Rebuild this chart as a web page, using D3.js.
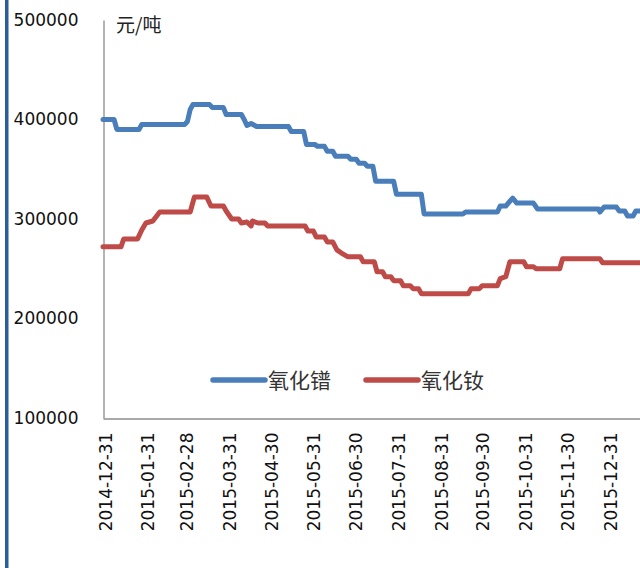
<!DOCTYPE html>
<html>
<head>
<meta charset="utf-8">
<script src="https://cdn.jsdelivr.net/npm/d3@7"></script>
<style>
  html, body { margin: 0; padding: 0; background: #fff; }
  #chart { width: 640px; height: 568px; overflow: hidden; }
</style>
</head>
<body>
<div id="chart"></div>
<script>
// 氧化镨 价格（元/吨）
var prDates = ['2014-12-31','2015-01-08','2015-01-10','2015-01-26','2015-01-28','2015-02-28','2015-03-02','2015-03-04','2015-03-06','2015-03-18',
               '2015-03-20','2015-03-28','2015-03-30','2015-04-10','2015-04-12','2015-04-14','2015-04-17','2015-04-21','2015-05-14','2015-05-16',
               '2015-05-25','2015-05-27','2015-06-02','2015-06-04','2015-06-09','2015-06-11','2015-06-15','2015-06-17','2015-06-26','2015-06-28',
               '2015-07-02','2015-07-04','2015-07-08','2015-07-10','2015-07-14','2015-07-16','2015-07-29','2015-07-31','2015-08-18','2015-08-20',
               '2015-09-17','2015-09-19','2015-10-12','2015-10-14','2015-10-18','2015-10-23','2015-10-26','2015-11-07','2015-11-10','2015-12-24',
               '2015-12-25','2015-12-28','2016-01-06','2016-01-08','2016-01-12','2016-01-14','2016-01-18','2016-01-20','2016-01-23'];
var prValues = [400000,400000,390000,390000,395000,395000,398000,410000,415000,415000,
                412000,412000,405000,405000,400000,394000,396000,393000,393000,388000,
                388000,375000,375000,373000,373000,368000,368000,363000,363000,360000,
                360000,356000,356000,353000,353000,338000,338000,325000,325000,305000,
                305000,307000,307000,313000,313000,321000,316000,316000,310000,310000,
                307000,312000,312000,308000,308000,303000,303000,308000,308000];
// 氧化钕 价格（元/吨）
var ndDates = ['2014-12-31','2015-01-13','2015-01-15','2015-01-25','2015-01-28','2015-01-31','2015-02-05','2015-02-10','2015-03-04','2015-03-07',
               '2015-03-16','2015-03-19','2015-03-28','2015-03-30','2015-04-03','2015-04-08','2015-04-10','2015-04-14','2015-04-17','2015-04-18',
               '2015-04-22','2015-04-27','2015-04-29','2015-05-26','2015-05-28','2015-06-01','2015-06-03','2015-06-09','2015-06-11','2015-06-15',
               '2015-06-18','2015-06-21','2015-06-26','2015-07-05','2015-07-07','2015-07-15','2015-07-17','2015-07-21','2015-07-23','2015-07-27',
               '2015-07-29','2015-08-03','2015-08-05','2015-08-10','2015-08-12','2015-08-16','2015-08-18','2015-09-21','2015-09-23','2015-09-29',
               '2015-10-01','2015-10-12','2015-10-14','2015-10-18','2015-10-21','2015-10-31','2015-11-02','2015-11-07','2015-11-09','2015-11-26',
               '2015-11-28','2015-12-25','2015-12-27','2016-01-23'];
var ndValues = [272000,272000,280000,280000,289000,296000,298000,307000,307000,322000,
                322000,313000,313000,308000,300000,300000,296000,297000,293000,298000,
                296000,296000,293000,293000,288000,288000,282000,282000,277000,277000,
                269000,266000,262000,262000,257000,257000,247000,247000,242000,242000,
                238000,238000,233000,233000,230000,230000,225000,225000,230000,230000,
                233000,233000,240000,242000,257000,257000,252000,252000,250000,250000,
                260000,260000,256000,256000];

var xLabels = ['2014-12-31','2015-01-31','2015-02-28','2015-03-31','2015-04-30','2015-05-31','2015-06-30',
               '2015-07-31','2015-08-31','2015-09-30','2015-10-31','2015-11-30','2015-12-31'];
var yTicks = [100000,200000,300000,400000,500000];
var seriesNames = ['氧化镨','氧化钕'];
var seriesColors = ['#4a7ebb','#be4b48'];

var parse = d3.timeParse('%Y-%m-%d');
var series = [
  prDates.map(function(d,i){ return {date:parse(d), value:prValues[i]}; }),
  ndDates.map(function(d,i){ return {date:parse(d), value:ndValues[i]}; })
];

var W = 640, H = 568;
var svg = d3.select('#chart').append('svg')
  .attr('width',W).attr('height',H);

// 左侧蓝色竖条
svg.append('rect')
  .attr('x',5).attr('y',0).attr('width',3.5).attr('height',H)
  .attr('fill','#2b5d9b');

var x = d3.scaleTime()
  .domain([parse('2014-12-31'), parse('2016-01-23')])
  .range([103, 640]);
var y = d3.scaleLinear()
  .domain([100000, 500000])
  .range([418, 20]);

// y轴
var yAxis = svg.append('g')
  .attr('transform','translate(103.5,0)')
  .call(d3.axisLeft(y).tickValues(yTicks).tickSize(0).tickPadding(25).tickFormat(d3.format('d')));
yAxis.select('.domain').attr('stroke','#8c8c8c').attr('stroke-width',1.3);
yAxis.selectAll('text')
  .style('font-family','"DejaVu Sans", sans-serif')
  .style('font-size','17px')
  .attr('fill','#111');

// x轴
var xAxis = svg.append('g')
  .attr('transform','translate(0,418.5)')
  .call(d3.axisBottom(x).tickValues(xLabels.map(parse)).tickSize(0).tickFormat(d3.timeFormat('%Y-%m-%d')));
xAxis.select('.domain').attr('stroke','#8c8c8c').attr('stroke-width',1.3);
xAxis.selectAll('text')
  .attr('transform','translate(2,14) rotate(-90)')
  .attr('x',0).attr('y',0).attr('dy',null)
  .attr('text-anchor','end')
  .attr('dominant-baseline','central')
  .style('font-family','"DejaVu Sans", sans-serif')
  .style('font-size','17px')
  .attr('fill','#111');

// 单位
svg.append('text')
  .attr('x',116).attr('y',23)
  .attr('dominant-baseline','central')
  .style('font-family','"Noto Sans CJK SC", sans-serif')
  .style('font-size','19px')
  .attr('fill','#222')
  .text('元/吨');

// 折线
var line = d3.line()
  .x(function(d){ return x(d.date); })
  .y(function(d){ return y(d.value); });

svg.selectAll('path.series')
  .data(series)
  .enter()
  .append('path')
  .attr('class','series')
  .attr('d',line)
  .attr('fill','none')
  .attr('stroke',function(d,i){ return seriesColors[i]; })
  .attr('stroke-width',5)
  .attr('stroke-linejoin','round')
  .attr('stroke-linecap','round');

// 图例
var legendX = [211, 364];
var legend = svg.selectAll('g.legend')
  .data(seriesNames)
  .enter()
  .append('g')
  .attr('class','legend')
  .attr('transform',function(d,i){ return 'translate(' + legendX[i] + ',380)'; });
legend.append('line')
  .attr('x1',2).attr('x2',54).attr('y1',0).attr('y2',0)
  .attr('stroke',function(d,i){ return seriesColors[i]; })
  .attr('stroke-width',5.5)
  .attr('stroke-linecap','round');
legend.append('text')
  .attr('x',57).attr('y',-1)
  .attr('dominant-baseline','central')
  .style('font-family','"Noto Sans CJK SC", sans-serif')
  .style('font-size','21px')
  .attr('fill','#333')
  .text(function(d){ return d; });
</script>
</body>
</html>
